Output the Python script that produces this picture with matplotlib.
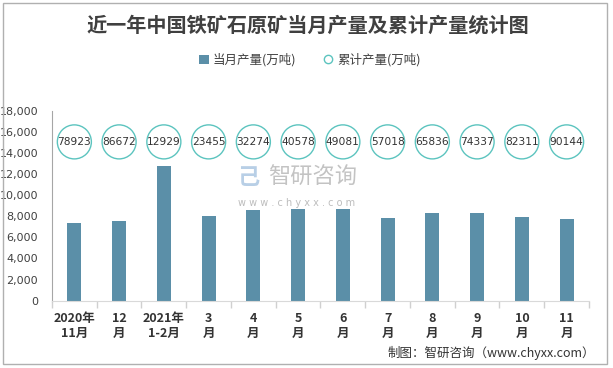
import matplotlib
matplotlib.use('Agg')
import matplotlib.pyplot as plt
import numpy as np
from matplotlib.lines import Line2D
from matplotlib.patches import Patch, Rectangle

plt.rcParams['font.family'] = ['Noto Sans CJK SC', 'DejaVu Sans']

categories = ['2020年\n11月', '12\n月', '2021年\n1-2月', '3\n月', '4\n月', '5\n月',
              '6\n月', '7\n月', '8\n月', '9\n月', '10\n月', '11\n月']
monthlyOutput = [7360, 7580, 12760, 8020, 8590, 8690, 8690, 7830, 8310, 8310, 7930, 7740]
cumulativeOutput = [78923, 86672, 12929, 23455, 32274, 40578, 49081, 57018, 65836, 74337, 82311, 90144]
yTicks = np.arange(0, 18001, 2000)

barColor = '#5b8fa8'
circleColor = '#5cc4bf'

fig = plt.figure(figsize=(6.13, 3.68), dpi=100)
ax = fig.add_axes([0.0848, 0.183, 0.876, 0.516])

x = np.arange(len(categories))
ax.bar(x, monthlyOutput, width=0.31, color=barColor, zorder=2)

circleLevel = 15050
ax.scatter(x, [circleLevel] * len(x), s=600, facecolors='none', edgecolors=circleColor, linewidths=1.0, zorder=3)
for xi, value in zip(x, cumulativeOutput):
  ax.text(xi, circleLevel, str(value), ha='center', va='center', fontsize=7.7, color='#333333',
          family='DejaVu Sans', zorder=4)

ax.set_xlim(-0.5, len(categories) - 0.5)
ax.set_ylim(0, 18000)
ax.set_yticks(yTicks)
ax.set_yticklabels([f'{v:,}' for v in yTicks], fontsize=8, color='#404040', family='DejaVu Sans')
ax.tick_params(axis='y', length=0, pad=10)

ax.set_xticks(x)
ax.set_xticklabels(categories, fontsize=9, fontweight='bold', color='#333333', linespacing=1.25)
ax.tick_params(axis='x', which='major', length=0, pad=8)
ax.set_xticks(np.arange(-0.5, len(categories)), minor=True)
ax.tick_params(axis='x', which='minor', length=5, color='#d0d0d0', width=1)

ax.spines['top'].set_visible(False)
ax.spines['right'].set_visible(False)
ax.spines['left'].set_color('#a6a6a6')
ax.spines['bottom'].set_color('#d9d9d9')

fig.text(0.502, 0.932, '近一年中国铁矿石原矿当月产量及累计产量统计图', ha='center', va='center',
         fontsize=14.5, fontweight='bold', color='#404040')

handles = [Patch(facecolor=barColor, edgecolor='none'),
           Line2D([], [], marker='o', linestyle='none', markerfacecolor='none', markeredgecolor=circleColor,
                  markersize=6, markeredgewidth=1)]
fig.legend(handles, ['当月产量(万吨)', '累计产量(万吨)'], loc='center', bbox_to_anchor=(0.505, 0.837),
           ncol=2, frameon=False, fontsize=9, handlelength=0.8, handletextpad=0.3, columnspacing=2.2,
           labelcolor='#404040')

# watermark
fig.text(0.437, 0.518, '智研咨询', ha='left', va='center', fontsize=16, color='#bdbdbd', alpha=0.9)
fig.text(0.388, 0.448, 'w w w . c h y x x . c o m', ha='left', va='center', fontsize=7, color='#bdbdbd',
         family='DejaVu Sans')
fig.text(0.405, 0.518, '己', ha='center', va='center', fontsize=16, color='#b8cfe6', fontweight='bold')

fig.text(0.971, 0.041, '制图：智研咨询（www.chyxx.com）', ha='right', va='center', fontsize=9, color='#333333')

fig.patches.append(Rectangle((0.005, 0.011), 0.985, 0.981, transform=fig.transFigure, fill=False,
                             edgecolor='#b0b0b0', linewidth=1))

fig.savefig('out.png', dpi=100)
